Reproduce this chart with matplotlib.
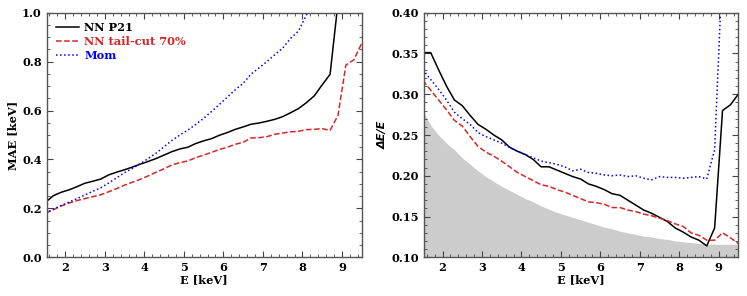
import matplotlib
matplotlib.use("Agg")
import matplotlib.pyplot as plt
from matplotlib.ticker import MultipleLocator, FormatStrFormatter

energy = [1.5, 1.7, 1.9, 2.1, 2.3, 2.5, 2.7, 2.9, 3.1, 3.3, 3.5, 3.7, 3.9, 4.1, 4.3, 4.5,
          4.7, 4.9, 5.1, 5.3, 5.5, 5.7, 5.9, 6.1, 6.3, 6.5, 6.7, 6.9, 7.1, 7.3, 7.5, 7.7,
          7.9, 8.1, 8.3, 8.5, 8.7, 8.9, 9.1, 9.3, 9.5]

mae_p21 = [0.225, 0.252, 0.266, 0.276, 0.289, 0.303, 0.311, 0.320, 0.337, 0.348, 0.358,
           0.369, 0.381, 0.392, 0.404, 0.418, 0.432, 0.443, 0.450, 0.465, 0.476, 0.485,
           0.499, 0.510, 0.523, 0.533, 0.544, 0.549, 0.556, 0.564, 0.575, 0.591, 0.608,
           0.632, 0.660, 0.705, 0.748, 1.04, 1.30, 1.40, 1.50]
mae_tail = [0.180, 0.195, 0.210, 0.222, 0.232, 0.240, 0.248, 0.256, 0.268, 0.281, 0.295,
            0.307, 0.319, 0.333, 0.348, 0.362, 0.378, 0.387, 0.394, 0.407, 0.418, 0.429,
            0.441, 0.450, 0.462, 0.470, 0.488, 0.489, 0.493, 0.503, 0.508, 0.513, 0.515,
            0.522, 0.523, 0.526, 0.519, 0.580, 0.786, 0.807, 0.875]
mae_mom = [0.180, 0.197, 0.212, 0.226, 0.240, 0.255, 0.270, 0.284, 0.304, 0.325, 0.346,
           0.364, 0.383, 0.404, 0.426, 0.452, 0.478, 0.500, 0.520, 0.543, 0.568, 0.596,
           0.625, 0.655, 0.685, 0.711, 0.749, 0.774, 0.800, 0.828, 0.855, 0.895, 0.925,
           0.990, 1.06, 1.12, 1.18, 1.30, 1.50, 1.60, 1.70]

res_p21 = [0.351, 0.351, 0.330, 0.310, 0.293, 0.286, 0.274, 0.263, 0.257, 0.250, 0.244,
           0.235, 0.230, 0.226, 0.220, 0.211, 0.211, 0.207, 0.203, 0.199, 0.196, 0.190,
           0.187, 0.183, 0.178, 0.176, 0.170, 0.164, 0.158, 0.154, 0.149, 0.144, 0.136,
           0.131, 0.125, 0.121, 0.114, 0.136, 0.280, 0.287, 0.300]
res_tail = [0.317, 0.305, 0.293, 0.281, 0.268, 0.261, 0.248, 0.236, 0.229, 0.224, 0.218,
            0.211, 0.204, 0.199, 0.194, 0.189, 0.187, 0.183, 0.180, 0.176, 0.172, 0.168,
            0.167, 0.165, 0.161, 0.161, 0.158, 0.156, 0.153, 0.151, 0.148, 0.145, 0.141,
            0.138, 0.130, 0.127, 0.121, 0.121, 0.130, 0.124, 0.117]
res_mom = [0.330, 0.318, 0.306, 0.293, 0.278, 0.270, 0.263, 0.253, 0.248, 0.244, 0.240,
           0.235, 0.230, 0.226, 0.222, 0.218, 0.216, 0.214, 0.211, 0.206, 0.208, 0.204,
           0.203, 0.201, 0.200, 0.201, 0.199, 0.200, 0.197, 0.195, 0.199, 0.198, 0.198,
           0.197, 0.198, 0.199, 0.196, 0.232, 0.46, 0.60, 0.70]
res_limit = [0.280, 0.262, 0.250, 0.240, 0.232, 0.222, 0.214, 0.206, 0.199, 0.193, 0.187,
             0.182, 0.177, 0.172, 0.168, 0.163, 0.159, 0.155, 0.152, 0.149, 0.146, 0.143,
             0.140, 0.137, 0.135, 0.132, 0.130, 0.128, 0.126, 0.125, 0.123, 0.122, 0.120,
             0.119, 0.118, 0.117, 0.116, 0.116, 0.116, 0.116, 0.116]

labels = ["NN P21", "NN tail-cut 70%", "Mom"]
colors = ["black", "#d62728", "blue"]
styles = ["-", "--", ":"]

FS = 8.2
plt.rcParams["font.family"] = "DejaVu Serif"
plt.rcParams["font.weight"] = "bold"
plt.rcParams["font.size"] = FS

fig = plt.figure(figsize=(7.47, 2.96), dpi=100)
ax1 = fig.add_axes([46.7 / 747, 1 - 257.3 / 296, 315 / 747, 244.6 / 296])
ax2 = fig.add_axes([424 / 747, 1 - 257.3 / 296, 314.3 / 747, 244.6 / 296])

for series, lab, c, ls in zip([mae_p21, mae_tail, mae_mom], labels, colors, styles):
    ax1.plot(energy, series, color=c, ls=ls, lw=1.1, label=lab)

ax2.fill_between(energy, 0, res_limit, color="#cccccc", lw=0)
for series, c, ls in zip([res_p21, res_tail, res_mom], colors, styles):
    ax2.plot(energy, series, color=c, ls=ls, lw=1.1)

ax1.set_ylim(0, 1.0)
ax2.set_ylim(0.10, 0.40)
for ax in (ax1, ax2):
    ax.set_xlim(1.53, 9.5)
    ax.xaxis.set_major_locator(MultipleLocator(1))
    ax.xaxis.set_minor_locator(MultipleLocator(0.2))
    ax.tick_params(which="both", direction="in", top=True, right=True, color="#444444",
                   labelsize=FS)
    ax.tick_params(which="major", length=4, width=0.8)
    ax.tick_params(which="minor", length=2, width=0.6)
    for s in ax.spines.values():
        s.set_color("#555555")
        s.set_linewidth(1.0)
    ax.set_xlabel("E [keV]", fontweight="bold", labelpad=1)

ax1.yaxis.set_major_locator(MultipleLocator(0.2))
ax1.yaxis.set_minor_locator(MultipleLocator(0.05))
ax2.yaxis.set_major_locator(MultipleLocator(0.05))
ax2.yaxis.set_minor_locator(MultipleLocator(0.01))
ax2.yaxis.set_major_formatter(FormatStrFormatter("%.2f"))
ax1.yaxis.set_major_formatter(FormatStrFormatter("%.1f"))

ax1.set_ylabel("MAE [keV]", fontweight="bold", labelpad=3)
ax2.set_ylabel("ΔE/E", fontweight="bold", fontstyle="italic", family="DejaVu Sans",
               labelpad=3)

leg = ax1.legend(loc="upper left", frameon=False, handlelength=2.0, handletextpad=0.5,
                 labelspacing=0.25, borderaxespad=0.4, prop={"weight": "bold", "size": FS})
for t, c in zip(leg.get_texts(), colors):
    t.set_color(c)

fig.savefig("out.png", dpi=100)
